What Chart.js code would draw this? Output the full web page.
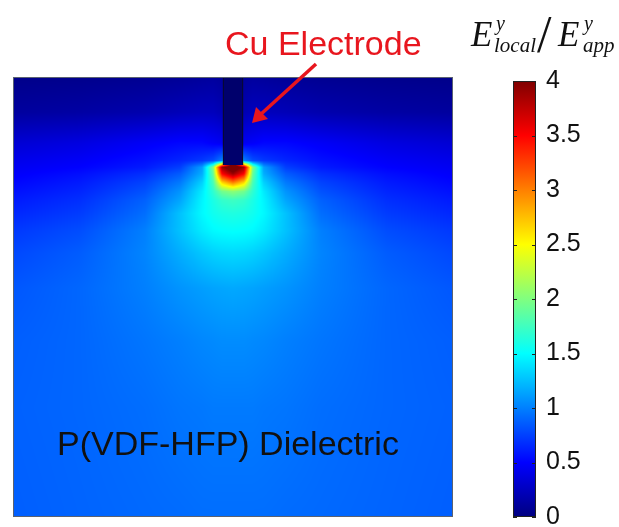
<!DOCTYPE html>
<html>
<head>
<meta charset="utf-8">
<script src="https://cdn.jsdelivr.net/npm/chart.js@4.4.0/dist/chart.umd.min.js"></script>
<style>
  html, body { margin: 0; padding: 0; background: #fff; }
  #wrap { position: relative; width: 619px; height: 527px; }
</style>
</head>
<body>
<div id="wrap"><canvas id="field"></canvas></div>
<script>
const fieldX = [0, 15, 30, 38, 43, 45.5, 47.5, 50, 52.5, 54.5, 57, 62, 70, 85, 100];
const fieldY = [0, 8, 15, 19, 20.5, 22, 24, 26, 28, 31, 35, 40, 48, 60, 75, 100];
const fieldValues = [
    [0.04, 0.05, 0.07, 0.09, 0.11, 0.12, 0.10, 0.05, 0.10, 0.12, 0.11, 0.09, 0.07, 0.05, 0.04],
    [0.12, 0.14, 0.18, 0.22, 0.24, 0.24, 0.20, 0.05, 0.20, 0.24, 0.24, 0.22, 0.18, 0.14, 0.12],
    [0.33, 0.38, 0.47, 0.52, 0.52, 0.48, 0.45, 0.05, 0.45, 0.48, 0.52, 0.52, 0.47, 0.38, 0.33],
    [0.42, 0.47, 0.56, 0.64, 0.72, 0.80, 1.00, 4.20, 1.00, 0.80, 0.72, 0.64, 0.56, 0.47, 0.42],
    [0.45, 0.50, 0.60, 0.74, 1.12, 2.00, 3.90, 4.30, 3.90, 2.00, 1.12, 0.74, 0.60, 0.50, 0.45],
    [0.48, 0.55, 0.68, 0.86, 1.18, 1.90, 3.50, 3.90, 3.50, 1.90, 1.18, 0.86, 0.68, 0.55, 0.48],
    [0.52, 0.60, 0.76, 0.98, 1.32, 1.78, 2.65, 3.00, 2.65, 1.78, 1.32, 0.98, 0.76, 0.60, 0.52],
    [0.56, 0.64, 0.82, 1.08, 1.42, 1.68, 1.95, 2.05, 1.95, 1.68, 1.42, 1.08, 0.82, 0.64, 0.56],
    [0.60, 0.68, 0.88, 1.15, 1.46, 1.60, 1.70, 1.74, 1.70, 1.60, 1.46, 1.15, 0.88, 0.68, 0.60],
    [0.65, 0.73, 0.93, 1.26, 1.48, 1.56, 1.60, 1.62, 1.60, 1.56, 1.48, 1.26, 0.93, 0.73, 0.65],
    [0.72, 0.80, 1.00, 1.26, 1.42, 1.48, 1.50, 1.51, 1.50, 1.48, 1.42, 1.26, 1.00, 0.80, 0.72],
    [0.78, 0.86, 1.02, 1.18, 1.28, 1.32, 1.34, 1.35, 1.34, 1.32, 1.28, 1.18, 1.02, 0.86, 0.78],
    [0.84, 0.90, 1.00, 1.08, 1.12, 1.14, 1.15, 1.16, 1.15, 1.14, 1.12, 1.08, 1.00, 0.90, 0.84],
    [0.87, 0.90, 0.96, 1.00, 1.03, 1.04, 1.05, 1.05, 1.05, 1.04, 1.03, 1.00, 0.96, 0.90, 0.87],
    [0.88, 0.90, 0.93, 0.96, 0.97, 0.98, 0.98, 0.98, 0.98, 0.98, 0.97, 0.96, 0.93, 0.90, 0.88],
    [0.87, 0.89, 0.91, 0.92, 0.93, 0.93, 0.93, 0.93, 0.93, 0.93, 0.93, 0.92, 0.91, 0.89, 0.87]
];

// Electrode geometry in the same units
const electrodeX = [47.7, 52.3];
const electrodeDepth = 20;

// Colour bar
const colorRange = [0, 4];
const colorTicks = [0, 0.5, 1, 1.5, 2, 2.5, 3, 3.5, 4];

// Labels
const electrodeLabel = 'Cu Electrode';
const dielectricLabel = 'P(VDF-HFP) Dielectric';

function clamp01(v) { return v < 0 ? 0 : (v > 1 ? 1 : v); }

// jet colormap
function jet(v) {
    const t = clamp01((v - colorRange[0]) / (colorRange[1] - colorRange[0]));
    return [
        Math.round(255 * clamp01(1.5 - Math.abs(4 * t - 3))),
        Math.round(255 * clamp01(1.5 - Math.abs(4 * t - 2))),
        Math.round(255 * clamp01(1.5 - Math.abs(4 * t - 1)))
    ];
}

function locate(arr, v) {
    for (let i = 0; i < arr.length - 2; i++) {
        if (v < arr[i + 1]) return i;
    }
    return arr.length - 2;
}

function sampleField(x, y) {
    const i = locate(fieldX, x), j = locate(fieldY, y);
    const tx = clamp01((x - fieldX[i]) / (fieldX[i + 1] - fieldX[i]));
    const ty = clamp01((y - fieldY[j]) / (fieldY[j + 1] - fieldY[j]));
    const a = fieldValues[j][i], b = fieldValues[j][i + 1];
    const c = fieldValues[j + 1][i], d = fieldValues[j + 1][i + 1];
    return (a * (1 - tx) + b * tx) * (1 - ty) + (c * (1 - tx) + d * tx) * ty;
}

const fieldPlugin = {
    id: 'fieldMap',
    beforeDatasetsDraw(chart) {
        const { ctx, chartArea: area, scales } = chart;
        const w = Math.round(area.right - area.left), h = Math.round(area.bottom - area.top);
        const off = document.createElement('canvas');
        off.width = w; off.height = h;
        const octx = off.getContext('2d');
        const img = octx.createImageData(w, h);
        for (let py = 0; py < h; py++) {
            const y = scales.y.getValueForPixel(area.top + py + 0.5);
            for (let px = 0; px < w; px++) {
                const x = scales.x.getValueForPixel(area.left + px + 0.5);
                const c = jet(sampleField(x, y));
                const k = (py * w + px) * 4;
                img.data[k] = c[0]; img.data[k + 1] = c[1]; img.data[k + 2] = c[2]; img.data[k + 3] = 255;
            }
        }
        octx.putImageData(img, 0, 0);
        ctx.drawImage(off, area.left, area.top);

        // electrode body
        const ex0 = scales.x.getPixelForValue(electrodeX[0]);
        const ex1 = scales.x.getPixelForValue(electrodeX[1]);
        const ey0 = scales.y.getPixelForValue(0);
        const ey1 = scales.y.getPixelForValue(electrodeDepth);
        ctx.save();
        ctx.fillStyle = 'rgb(0,0,108)';
        ctx.fillRect(ex0, ey0, ex1 - ex0, ey1 - ey0);
        ctx.strokeStyle = 'rgba(10,10,40,0.9)';
        ctx.lineWidth = 1;
        ctx.beginPath();
        ctx.moveTo(ex0 + 0.5, ey0); ctx.lineTo(ex0 + 0.5, ey1);
        ctx.moveTo(ex1 - 0.5, ey0); ctx.lineTo(ex1 - 0.5, ey1);
        ctx.stroke();

        // plot frame
        ctx.strokeStyle = '#5a6272';
        ctx.strokeRect(area.left + 0.5, area.top + 0.5, w - 1, h - 1);
        ctx.restore();
    },
    afterDraw(chart) {
        const { ctx, scales } = chart;
        const cb = scales.cb;
        const bx0 = 513, bx1 = 536;
        const yTop = cb.getPixelForValue(colorRange[1]);
        const yBot = cb.getPixelForValue(colorRange[0]);
        ctx.save();

        // colour bar gradient
        const grad = ctx.createLinearGradient(0, yBot, 0, yTop);
        for (let i = 0; i <= 40; i++) {
            const c = jet(colorRange[0] + (colorRange[1] - colorRange[0]) * i / 40);
            grad.addColorStop(i / 40, `rgb(${c[0]},${c[1]},${c[2]})`);
        }
        ctx.fillStyle = grad;
        ctx.fillRect(bx0, yTop, bx1 - bx0, yBot - yTop);
        ctx.strokeStyle = '#222';
        ctx.lineWidth = 1;
        ctx.strokeRect(bx0 + 0.5, yTop + 0.5, bx1 - bx0 - 1, yBot - yTop - 1);
        ctx.beginPath();
        colorTicks.forEach(v => {
            const y = Math.round(cb.getPixelForValue(v)) + 0.5;
            ctx.moveTo(bx0, y); ctx.lineTo(bx0 + 4, y);
            ctx.moveTo(bx1 - 4, y); ctx.lineTo(bx1, y);
        });
        ctx.stroke();

        // colour bar title: E^y_local / E^y_app
        ctx.fillStyle = '#111';
        ctx.textBaseline = 'alphabetic';
        ctx.textAlign = 'left';
        ctx.font = 'italic 35px "Liberation Serif", serif';
        ctx.fillText('E', 471, 46);
        ctx.fillText('E', 558, 46);
        ctx.font = 'italic 20px "Liberation Serif", serif';
        ctx.fillText('y', 496, 30);
        ctx.fillText('y', 584, 30);
        ctx.font = 'italic 21px "Liberation Serif", serif';
        ctx.fillText('local', 494, 52);
        ctx.fillText('app', 583, 52);
        ctx.font = '52px "Liberation Serif", serif';
        ctx.fillText('/', 537, 52);

        // electrode label and arrow
        ctx.fillStyle = '#e8161e';
        ctx.font = '34px "Liberation Sans", Arial, sans-serif';
        ctx.fillText(electrodeLabel, 225, 55);
        ctx.strokeStyle = '#e8161e';
        ctx.lineWidth = 3.5;
        ctx.beginPath();
        ctx.moveTo(316, 64);
        ctx.lineTo(260, 115);
        ctx.stroke();
        ctx.beginPath();
        ctx.moveTo(252, 123);
        ctx.lineTo(256, 107);
        ctx.lineTo(268, 119);
        ctx.closePath();
        ctx.fill();

        // dielectric label
        ctx.fillStyle = '#111';
        ctx.font = '34px "Liberation Sans", Arial, sans-serif';
        ctx.fillText(dielectricLabel, 57, 455);
        ctx.restore();
    }
};

new Chart(document.getElementById('field'), {
    type: 'scatter',
    data: { datasets: [{ data: [] }] },
    options: {
        responsive: true,
        maintainAspectRatio: false,
        animation: false,
        layout: { padding: { left: 13, top: 77, right: 0, bottom: 10 } },
        plugins: { legend: { display: false }, tooltip: { enabled: false } },
        scales: {
            x: { type: 'linear', min: 0, max: 100, display: false },
            y: { type: 'linear', min: 0, max: 100, reverse: true, display: false },
            cb: {
                type: 'linear',
                position: 'right',
                min: 0,
                max: 4.037,
                grid: { display: false, drawTicks: false },
                border: { display: false },
                ticks: {
                    padding: 93,
                    color: '#111',
                    font: { family: '"Liberation Sans", Arial, sans-serif', size: 25 },
                    callback: v => String(v)
                },
                afterBuildTicks(scale) { scale.ticks = colorTicks.map(v => ({ value: v })); },
                afterFit(scale) {
                    scale.width = 166;
                    // labels may overhang the bar; keep the plot area where the layout padding puts it
                    scale.paddingTop = 0;
                    scale.paddingBottom = 0;
                }
            }
        }
    },
    plugins: [fieldPlugin]
});
</script>
</body>
</html>
